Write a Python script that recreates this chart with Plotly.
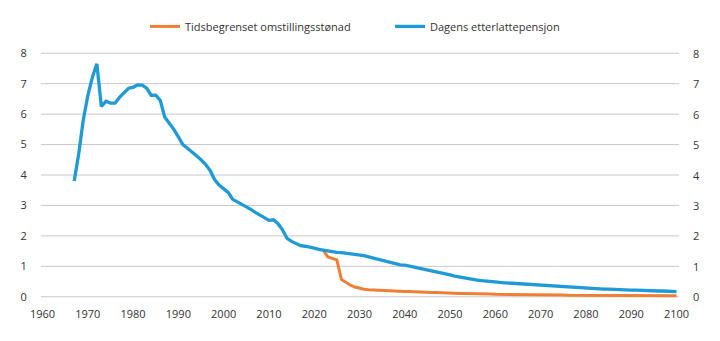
import plotly.graph_objects as go

# ---- data ----
blue_years = list(range(1967, 2101))
blue_vals = [
    3.8, 4.7, 5.8, 6.6, 7.2, 7.65, 6.25,            # 1967-1973
    6.42, 6.36, 6.36, 6.55, 6.7, 6.85, 6.88, 6.96, 6.95, 6.85,  # 1974-1983
    6.62, 6.62, 6.45, 5.9, 5.7, 5.5, 5.25, 5.0, 4.88, 4.77,    # 1984-1993
    4.63, 4.5, 4.35, 4.15, 3.85, 3.67, 3.55, 3.43, 3.2, 3.12,  # 1994-2003
    3.06, 2.98, 2.87, 2.77, 2.68, 2.6, 2.51, 2.53, 2.4, 2.2,   # 2004-2013
    1.92, 1.82, 1.75, 1.68, 1.66, 1.64, 1.6, 1.56, 1.53, 1.5,  # 2014-2023
    1.48, 1.46, 1.45, 1.43, 1.42, 1.40, 1.38, 1.35, 1.31, 1.27,  # 2024-2033
    1.23, 1.19, 1.15, 1.11, 1.08, 1.05, 1.04, 1.01, 0.98, 0.95,  # 2034-2043
    0.92, 0.88, 0.85, 0.82, 0.79, 0.76, 0.72, 0.68, 0.65, 0.62,  # 2044-2053
    0.60, 0.58, 0.55, 0.53, 0.51, 0.49, 0.48, 0.47, 0.46, 0.45,  # 2054-2063
    0.43, 0.42, 0.41, 0.40, 0.39, 0.38, 0.37, 0.36, 0.35, 0.34,  # 2064-2073
    0.33, 0.32, 0.32, 0.31, 0.30, 0.29, 0.29, 0.28, 0.27, 0.26,  # 2074-2083
    0.25, 0.25, 0.24, 0.24, 0.23, 0.23, 0.22, 0.22, 0.21, 0.21,  # 2084-2093
    0.20, 0.20, 0.19, 0.19, 0.18, 0.18, 0.17,                    # 2094-2100
]

orange_years = list(range(2022, 2101))
orange_vals = [
    1.53, 1.31, 1.26, 1.21, 0.57, 0.47, 0.38, 0.32, 0.28, 0.25,  # 2022-2031
    0.23, 0.22, 0.21, 0.20, 0.20, 0.19, 0.18, 0.18, 0.17, 0.17,  # 2032-2041
    0.16, 0.16, 0.15, 0.15, 0.14, 0.14, 0.13, 0.13, 0.12, 0.12,  # 2042-2051
    0.11, 0.11, 0.11, 0.10, 0.10, 0.09, 0.09, 0.09, 0.08, 0.08,  # 2052-2061
    0.08, 0.08, 0.07, 0.07, 0.07, 0.07, 0.07, 0.06, 0.06, 0.06,  # 2062-2071
    0.06, 0.06, 0.06, 0.06, 0.05, 0.05, 0.05, 0.05, 0.05, 0.05,  # 2072-2081
    0.05, 0.05, 0.05, 0.04, 0.04, 0.04, 0.04, 0.04, 0.04, 0.04,  # 2082-2091
    0.04, 0.04, 0.03, 0.03, 0.03, 0.03, 0.03, 0.03, 0.03,        # 2092-2100
]

x_ticks = list(range(1960, 2101, 10))
y_ticks = list(range(0, 9))

orange_name = "Tidsbegrenset omstillingsstønad"
blue_name = "Dagens etterlattepensjon"

ORANGE = "#F07F36"
BLUE = "#1F9AD6"
GRID = "#C8C8C8"
TXT = "#333333"
FONT = "Open Sans"
X_RANGE = [1959.67, 2100.55]
Y_RANGE = [-0.04, 8.04]

# gridline trace built from the y ticks, spanning the x range (drawn first, beneath the data)
grid_x, grid_y = [], []
for v in y_ticks:
    grid_x += [X_RANGE[0], X_RANGE[1], None]
    grid_y += [v, v, None]

fig = go.Figure()
fig.add_trace(go.Scatter(x=grid_x, y=grid_y, mode="lines", showlegend=False, hoverinfo="skip",
                         line=dict(color=GRID, width=1)))
fig.add_trace(go.Scatter(x=orange_years, y=orange_vals, mode="lines", name=orange_name,
                         line=dict(color=ORANGE, width=3)))
fig.add_trace(go.Scatter(x=blue_years, y=blue_vals, mode="lines", name=blue_name,
                         line=dict(color=BLUE, width=3.3)))

# right-hand value labels mirror the left axis ticks
for v in y_ticks:
    fig.add_annotation(x=1, xref="paper", xanchor="left", xshift=12, y=v, yref="y",
                       text=str(v), showarrow=False,
                       font=dict(family=FONT, size=11, color=TXT))

fig.update_layout(
    template="none",
    width=720, height=341,
    margin=dict(l=41, r=41, t=52, b=43, pad=0),
    paper_bgcolor="white", plot_bgcolor="white",
    font=dict(family=FONT, size=11, color=TXT),
    showlegend=True,
    legend=dict(orientation="h", x=0.163, xanchor="left", y=1.104, yanchor="middle",
                entrywidth=200, entrywidthmode="pixels",
                font=dict(family=FONT, size=11, color=TXT),
                bgcolor="rgba(0,0,0,0)", borderwidth=0),
    xaxis=dict(range=X_RANGE, tickvals=x_ticks, ticktext=[str(t) for t in x_ticks],
               showgrid=False, zeroline=False, showline=False,
               ticks="outside", ticklen=6, tickcolor="rgba(0,0,0,0)",
               tickfont=dict(size=11, color=TXT)),
    yaxis=dict(range=Y_RANGE, tickvals=y_ticks, showgrid=False,
               zeroline=False, showline=False, ticks="outside", ticklen=11,
               tickcolor="rgba(0,0,0,0)", tickfont=dict(size=11, color=TXT)),
)

fig.write_html("out.html")
